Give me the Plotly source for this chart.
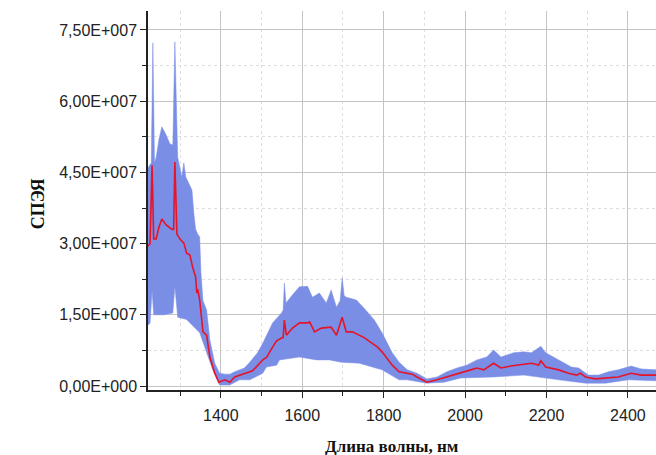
import numpy as np
import plotly.graph_objects as go

# Mean spectrum (red line): wavelength, nm / value, x1e6
mean_wl = [1221, 1226, 1231, 1235, 1241, 1248, 1255, 1265, 1280, 1284, 1287, 1292, 1299, 1309,
           1316, 1324, 1331, 1338, 1341, 1343, 1348, 1356, 1365, 1373, 1385, 1395, 1410, 1422,
           1434, 1458, 1478, 1503, 1512, 1527, 1537, 1549, 1553, 1556, 1561, 1576, 1593, 1613,
           1618, 1630, 1647, 1671, 1684, 1698, 1708, 1723, 1740, 1752, 1772, 1785, 1796, 1810,
           1821, 1838, 1858, 1870, 1882, 1900, 1906, 1931, 1965, 1990, 2014, 2029, 2046, 2070,
           2088, 2112, 2144, 2163, 2181, 2186, 2198, 2230, 2254, 2274, 2283, 2296, 2320, 2352,
           2376, 2408, 2433, 2470]
mean_val = [29.5, 30.0, 46.5, 31.0, 31.0, 33.5, 35.2, 34.0, 33.0, 33.0, 47.2, 32.0, 31.0, 30.1,
            28.0, 27.6, 24.9, 23.0, 19.6, 20.4, 18.1, 11.4, 10.7, 6.1, 2.7, 0.8, 1.3, 0.8,
            1.9, 2.7, 3.2, 5.5, 6.0, 8.2, 9.5, 10.1, 10.2, 13.9, 10.7, 12.2, 13.3, 13.3,
            13.5, 11.4, 12.2, 12.4, 10.7, 14.5, 11.4, 11.4, 10.7, 10.2, 9.0, 8.2, 7.2, 5.5,
            4.4, 3.0, 2.7, 2.5, 1.9, 1.0, 0.8, 1.3, 2.1, 2.7, 3.4, 3.8, 3.4, 4.8,
            3.8, 4.2, 4.6, 4.8, 4.4, 5.3, 4.0, 3.4, 2.7, 2.3, 2.7, 1.9, 1.5, 1.7,
            1.9, 2.7, 2.3, 2.3]

# Upper envelope of the band
upper_wl = [1221, 1229, 1233, 1237, 1241, 1248, 1255, 1265, 1275, 1282, 1287, 1292, 1294, 1304,
            1309, 1314, 1324, 1329, 1334, 1338, 1343, 1348, 1351, 1356, 1365, 1373, 1385, 1397,
            1410, 1422, 1434, 1458, 1471, 1490, 1503, 1527, 1549, 1553, 1556, 1560, 1576, 1593,
            1613, 1625, 1642, 1659, 1671, 1684, 1693, 1698, 1703, 1708, 1733, 1752, 1777, 1796,
            1821, 1838, 1858, 1882, 1906, 1931, 1955, 1980, 2004, 2029, 2053, 2070, 2088, 2119,
            2144, 2163, 2186, 2198, 2230, 2261, 2279, 2303, 2328, 2352, 2376, 2408, 2433, 2470]
upper_val = [46.0, 47.0, 72.3, 47.0, 48.2, 52.0, 54.6, 53.0, 51.0, 50.8, 72.5, 50.0, 48.2, 44.0,
             47.0, 44.0, 42.3, 41.3, 36.0, 33.0, 32.0, 31.4, 24.0, 18.0, 16.0, 9.7, 4.8, 2.7,
             2.5, 2.5, 3.0, 3.8, 5.0, 7.0, 9.0, 13.3, 15.4, 16.0, 21.7, 17.5, 19.2, 20.9,
             21.0, 18.7, 19.6, 17.5, 20.2, 16.6, 18.0, 22.8, 19.0, 18.7, 18.1, 16.4, 13.9, 11.2,
             7.0, 5.0, 3.4, 2.7, 1.5, 1.9, 3.0, 3.8, 4.4, 5.5, 6.1, 7.6, 6.1, 7.0,
             7.2, 7.0, 8.4, 7.0, 5.5, 4.0, 3.8, 2.3, 2.3, 3.0, 3.4, 4.2, 3.6, 3.4]

# Lower envelope of the band
lower_wl = [1221, 1226, 1231, 1235, 1243, 1260, 1282, 1287, 1294, 1316, 1348, 1365, 1380, 1397,
            1422, 1446, 1471, 1503, 1512, 1537, 1544, 1593, 1635, 1667, 1696, 1740, 1796, 1838,
            1858, 1906, 1948, 1990, 2070, 2144, 2181, 2230, 2296, 2345, 2401, 2470]
lower_val = [12.8, 13.3, 20.0, 15.0, 15.0, 15.0, 15.4, 21.0, 14.5, 14.0, 11.2, 7.0, 3.4, 0.2,
             0.2, 1.3, 1.3, 2.7, 4.0, 4.4, 5.5, 6.1, 5.5, 5.5, 5.0, 4.8, 3.4, 1.3,
             1.3, 0.6, 0.8, 1.7, 1.9, 2.3, 1.9, 1.3, 0.6, 0.6, 1.3, 1.1]

y_tick_vals = [0, 15e6, 30e6, 45e6, 60e6, 75e6]
y_tick_text = ["0,00E+000", "1,50E+007", "3,00E+007", "4,50E+007", "6,00E+007", "7,50E+007"]
x_tick_vals = [1400, 1600, 1800, 2000, 2200, 2400]

scale = 1e6
band_x = list(upper_wl) + list(lower_wl[::-1])
band_y = list(np.array(upper_val) * scale) + list(np.array(lower_val[::-1]) * scale)

fig = go.Figure()
fig.add_trace(go.Scatter(x=band_x, y=band_y, fill="toself", mode="lines",
                         line=dict(width=0.5, color="rgb(122,142,230)"),
                         fillcolor="rgb(122,142,230)", hoverinfo="skip", showlegend=False))
fig.add_trace(go.Scatter(x=mean_wl, y=np.array(mean_val) * scale, mode="lines",
                         line=dict(color="rgb(230,20,40)", width=1.6), showlegend=False))

fig.update_layout(
    width=656, height=455,
    margin=dict(l=148, r=0, t=11, b=65),
    plot_bgcolor="white", paper_bgcolor="white",
    font=dict(family="Liberation Sans, Arial", size=16, color="#222"),
    xaxis=dict(range=[1221, 2469], tickvals=x_tick_vals,
               showline=True, linecolor="#222", linewidth=1.5,
               ticks="outside", ticklen=6, tickcolor="#222", tickwidth=1.2,
               showgrid=True, gridcolor="#c4c4c4", gridwidth=1, zeroline=False,
               ticklabelstandoff=4,
               minor=dict(dtick=100, tick0=1200, ticks="outside", ticklen=4, tickcolor="#222",
                          showgrid=True, gridcolor="#dedede", griddash="dot")),
    yaxis=dict(range=[-0.84e6, 79e6], tickvals=y_tick_vals, ticktext=y_tick_text,
               showline=True, linecolor="#222", linewidth=1.5,
               ticks="outside", ticklen=6, tickcolor="#222", tickwidth=1.2,
               showgrid=True, gridcolor="#c4c4c4", gridwidth=1, zeroline=False,
               minor=dict(dtick=7.5e6, tick0=0, ticks="outside", ticklen=4, tickcolor="#222",
                          showgrid=True, gridcolor="#dedede", griddash="dot")),
    annotations=[
        dict(text="<b>Длина волны, нм</b>", xref="paper", yref="paper",
             x=(392 - 148) / 508, y=-0.148, xanchor="center", yanchor="middle",
             showarrow=False, font=dict(family="Liberation Serif, Times New Roman", size=17, color="#111")),
        dict(text="<b>СПЭЯ</b>", xref="paper", yref="paper",
             x=(38 - 148) / 508, y=0.49, xanchor="center", yanchor="middle", textangle=-90,
             showarrow=False, font=dict(family="Liberation Serif, Times New Roman", size=18, color="#111")),
    ],
)

fig.write_html("out.html")
